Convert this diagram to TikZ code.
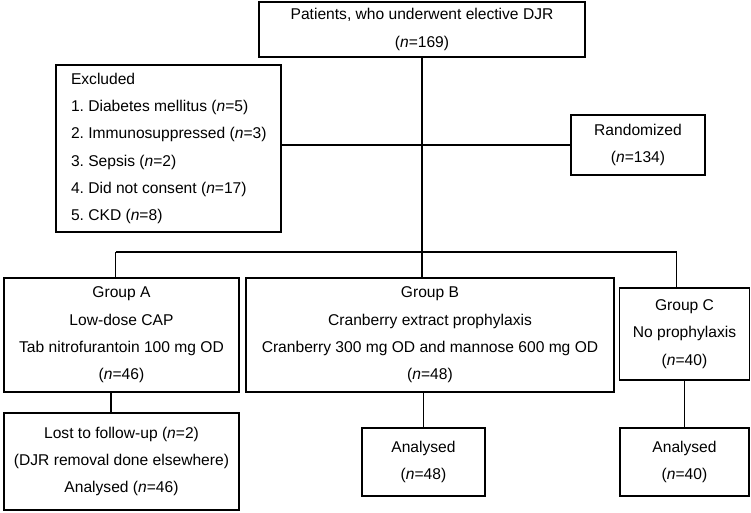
\documentclass[tikz,border=0pt]{standalone}
\usepackage{fontspec}
\setmainfont{Liberation Sans}
\frenchspacing
\begin{document}
\begin{tikzpicture}[x=1pt,y=-1pt,
  box/.style={draw=black, line width=1.1pt, inner sep=0pt, align=center,
    font=\fontsize{15.6}{27.3}\selectfont\frenchspacing},
  conn/.style={line width=1.1pt}]
\useasboundingbox (0,0) rectangle (751,512);
\node[box, minimum width=326, minimum height=55] (top) at (422,29.5)
  {Patients, who underwent elective DJR\\(\textit{n}=169)};
\node[box, minimum width=225, minimum height=167, text width=195, inner xsep=15, align=flush left] (excl) at (168.5,148.5)
  {\mbox{Excluded}\\\mbox{1. Diabetes mellitus (\textit{n}=5)}\\\mbox{2. Immunosuppressed (\textit{n}=3)}\\\mbox{3. Sepsis (\textit{n}=2)}\\\mbox{4. Did not consent (\textit{n}=17)}\\\mbox{5. CKD (\textit{n}=8)}};
\node[box, minimum width=134, minimum height=60] (rand) at (638,145)
  {Randomized\\(\textit{n}=134)};
\node[box, minimum width=235, minimum height=114] (gA) at (121.5,335)
  {Group A\\Low-dose CAP\\Tab nitrofurantoin 100 mg OD\\(\textit{n}=46)};
\node[box, minimum width=368, minimum height=114] (gB) at (430,335)
  {Group B\\Cranberry extract prophylaxis\\Cranberry 300 mg OD and mannose 600 mg OD\\(\textit{n}=48)};
\node[box, minimum width=130, minimum height=92] (gC) at (684.5,334)
  {Group C\\No prophylaxis\\(\textit{n}=40)};
\node[box, minimum width=235, minimum height=97] (sA) at (121.5,461.5)
  {Lost to follow-up (\textit{n}=2)\\(DJR removal done elsewhere)\\Analysed (\textit{n}=46)};
\node[box, minimum width=123, minimum height=68] (sB) at (423.5,462)
  {Analysed\\(\textit{n}=48)};
\node[box, minimum width=129, minimum height=68] (sC) at (684.5,462)
  {Analysed\\(\textit{n}=40)};
\coordinate (busL) at (115.5,252);
\coordinate (busR) at (676.5,252);
\coordinate (j) at (top.south |- busL);
\draw[conn] (top.south) -- (j);
\draw[conn] (excl.east |- rand.west) -- (rand.west);
\draw[conn] (busL) -- (busR);
\draw[conn] (busL) -- (busL |- gA.north);
\draw[conn] (j) -- (j |- gB.north);
\draw[conn] (busR) -- (busR |- gC.north);
\draw[conn] ([xshift=-10.5pt]gA.south) -- ([xshift=-10.5pt]gA.south |- sA.north);
\draw[conn] (sB.north |- gB.south) -- (sB.north);
\draw[conn] (sC.north |- gC.south) -- (sC.north);
\end{tikzpicture}
\end{document}
